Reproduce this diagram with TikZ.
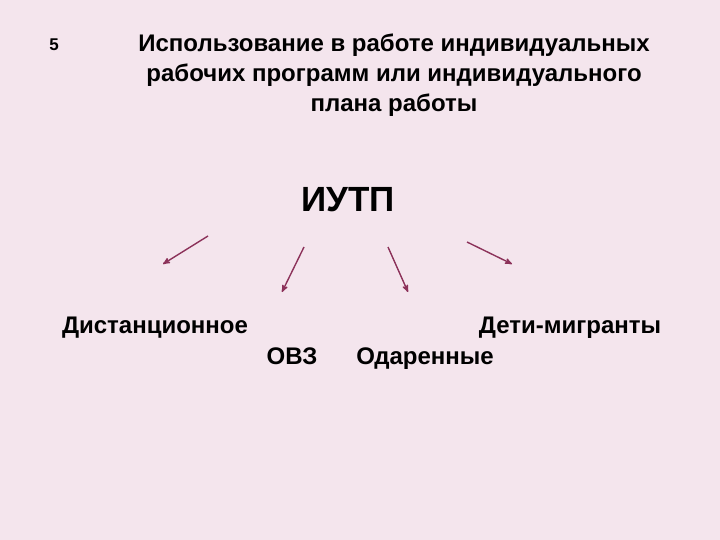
\documentclass[tikz,border=0pt]{standalone}
\usepackage{fontspec}
\setmainfont{Liberation Sans}
\usetikzlibrary{arrows}
\definecolor{slidebg}{RGB}{244,229,237}
\definecolor{arrowred}{RGB}{140,50,90}

\begin{document}
\begin{tikzpicture}[x=1pt,y=-1pt,>=stealth',
        title node/.style={font=\bfseries\fontsize{24}{30}\selectfont,align=center,inner sep=0pt},
        group node/.style={font=\bfseries\fontsize{24}{28}\selectfont,inner sep=0pt,anchor=base},
        arrow line/.style={->,draw=arrowred,line width=1.4pt}]
        \fill[slidebg] (0,0) rectangle (720,540);
        \node[font=\bfseries\fontsize{17}{20}\selectfont] (num) at (54,45) {5};
        \node[title node] (title) at (394,75) {Использование в работе индивидуальных\\
                рабочих программ или индивидуального\\плана работы};
        \node[font=\bfseries\fontsize{35}{40}\selectfont,inner sep=0pt] (iutp) at (348,200) {ИУТП};
        \node[group node] (dist) at (155,333) {Дистанционное};
        \node[group node] (ovz) at (292,364) {ОВЗ};
        \node[group node] (odar) at (425,364) {Одаренные};
        \node[group node] (migr) at (570,333) {Дети-мигранты};
        % free arrows under the abbreviation
        \coordinate (a1) at (208,236);
        \coordinate (b1) at (163,264);
        \coordinate (a2) at (304,247);
        \coordinate (b2) at (282,292);
        \coordinate (a3) at (388,247);
        \coordinate (b3) at (408,292);
        \coordinate (a4) at (467,242);
        \coordinate (b4) at (512,264);
        \path
        (a1) edge[arrow line] (b1)
        (a2) edge[arrow line] (b2)
        (a3) edge[arrow line] (b3)
        (a4) edge[arrow line] (b4)
        ;
\end{tikzpicture}
\end{document}
